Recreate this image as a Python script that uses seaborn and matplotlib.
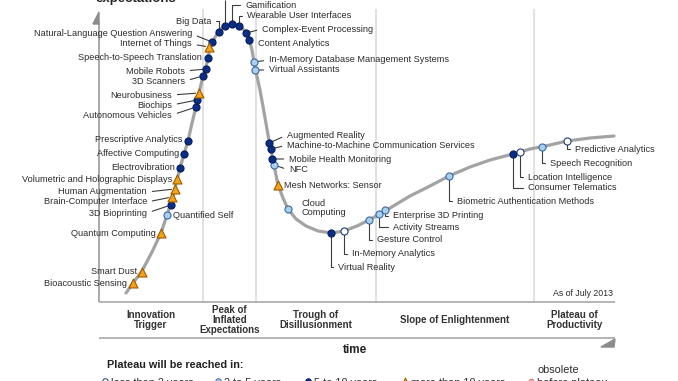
import matplotlib
matplotlib.use("Agg")
import matplotlib.pyplot as plt
import seaborn as sns
import pandas as pd

sns.set_theme(style="white")
plt.rcParams["font.family"] = ["Liberation Sans", "DejaVu Sans"]

# --- data (x = time, y = expectations, picture units) ---

# the hype curve itself
curve_x = [126, 133, 142, 152, 161, 167, 172, 177, 180, 184, 188, 192, 196, 199,
           203, 206, 208, 210, 213, 218, 224, 231, 238, 245, 249, 252, 254, 256,
           260, 264, 268, 271, 274, 278, 283, 288, 296, 306, 318, 331, 344, 357,
           369, 385, 410, 430, 449, 470, 490, 513, 530, 550, 567, 590, 614]
curve_y = [293, 283, 271, 252, 233, 215, 200, 180, 168, 154, 141, 123, 107, 93,
           76, 67, 58, 48, 41, 32, 26, 24, 25, 31, 39, 50, 62, 72,
           90, 112, 135, 150, 165, 185, 198, 209, 219, 226, 231, 233, 231, 226,
           220, 211, 196, 186, 176, 167, 160, 154, 149, 145, 141, 138, 136]

tech_names = [
    "Bioacoustic Sensing", "Smart Dust", "Quantum Computing", "Quantified Self",
    "3D Bioprinting", "Brain-Computer Interface", "Human Augmentation",
    "Volumetric and Holographic Displays", "Electrovibration", "Affective Computing",
    "Prescriptive Analytics", "Autonomous Vehicles", "Biochips", "Neurobusiness",
    "3D Scanners", "Mobile Robots", "Speech-to-Speech Translation", "Internet of Things",
    "Natural-Language Question Answering", "Big Data", "Consumer 3D Printing",
    "Gamification", "Wearable User Interfaces", "Complex-Event Processing",
    "Content Analytics", "In-Memory Database Management Systems", "Virtual Assistants",
    "Augmented Reality", "Machine-to-Machine Communication Services",
    "Mobile Health Monitoring", "NFC", "Mesh Networks: Sensor", "Cloud Computing",
    "Virtual Reality", "In-Memory Analytics", "Gesture Control", "Activity Streams",
    "Enterprise 3D Printing", "Biometric Authentication Methods", "Consumer Telematics",
    "Location Intelligence", "Speech Recognition", "Predictive Analytics",
]
tech_x = [133, 142, 161, 167, 171, 172, 175, 177, 180, 184, 188, 196, 197, 199,
          203, 206, 208, 209, 212, 219, 225, 232, 239, 246, 249, 254, 255,
          269, 271, 272, 274, 278, 288, 331, 344, 369, 379, 385, 449, 513,
          520, 542, 567]
tech_y = [283, 272, 233, 215, 205, 197, 189, 179, 168, 154, 141, 107, 100, 93,
          76, 69, 58, 47, 42, 32, 26, 24, 26, 33, 40, 62, 70,
          143, 149, 159, 165, 185, 209, 233, 231, 220, 214, 210, 176, 154,
          152, 147, 141]
tech_years = [">10", ">10", ">10", "2-5", "5-10", ">10", ">10", ">10", "5-10", "5-10",
              "5-10", "5-10", "5-10", ">10", "5-10", "5-10", "5-10", ">10", "5-10", "5-10",
              "5-10", "5-10", "5-10", "5-10", "5-10", "2-5", "2-5",
              "5-10", "5-10", "5-10", "2-5", ">10", "2-5", "5-10", "<2", "2-5", "2-5",
              "2-5", "2-5", "5-10", "<2", "2-5", "<2"]

phase_names = ["Innovation\nTrigger", "Peak of\nInflated\nExpectations",
               "Trough of\nDisillusionment", "Slope of Enlightenment",
               "Plateau of\nProductivity"]
phase_edges = [99, 203, 256, 376, 534, 615]

legend_keys = ["<2", "2-5", "5-10", ">10", "obsolete"]
legend_labels = ["less than 2 years", "2 to 5 years", "5 to 10 years",
                 "more than 10 years", "before plateau"]

# --- styling / layout ---
styles = {
    "<2": dict(marker="o", color="white", edgecolor="#1d3b78", s=26),
    "2-5": dict(marker="o", color="#a9cfeb", edgecolor="#3a68a8", s=26),
    "5-10": dict(marker="o", color="#0a2d86", edgecolor="#061d5c", s=26),
    ">10": dict(marker="^", color="#f2a21b", edgecolor="#a05c00", s=42),
    "obsolete": dict(marker="o", color="#f4a3a3", edgecolor="#e07070", s=18),
}

# label position, alignment, leader kind
label_layout = {
    "Bioacoustic Sensing": (127, 283, "right", "none"),
    "Smart Dust": (137, 272, "right", "none"),
    "Quantum Computing": (156, 233, "right", "none"),
    "Quantified Self": (173, 215, "left", "none"),
    "3D Bioprinting": (147, 213, "right", "line"),
    "Brain-Computer Interface": (147, 202, "right", "line"),
    "Human Augmentation": (147, 192, "right", "line"),
    "Volumetric and Holographic Displays": (172, 179, "right", "none"),
    "Electrovibration": (175, 167, "right", "none"),
    "Affective Computing": (179, 153, "right", "none"),
    "Prescriptive Analytics": (182, 140, "right", "none"),
    "Autonomous Vehicles": (172, 115, "right", "line"),
    "Biochips": (172, 105, "right", "line"),
    "Neurobusiness": (172, 95, "right", "line"),
    "3D Scanners": (185, 81, "right", "line"),
    "Mobile Robots": (185, 71, "right", "line"),
    "Speech-to-Speech Translation": (202, 58, "right", "none"),
    "Internet of Things": (192, 44, "right", "line"),
    "Natural-Language Question Answering": (192, 34, "right", "line"),
    "Big Data": (211, 21, "right", "elbow"),
    "Consumer 3D Printing": (226, 0, "left", "up"),
    "Gamification": (245, 5, "left", "elbow"),
    "Wearable User Interfaces": (247, 16, "left", "elbow"),
    "Complex-Event Processing": (262, 29, "left", "line"),
    "Content Analytics": (258, 44, "left", "none"),
    "In-Memory Database Management Systems": (269, 60, "left", "line"),
    "Virtual Assistants": (269, 70, "left", "line"),
    "Augmented Reality": (287, 135, "left", "line"),
    "Machine-to-Machine Communication Services": (287, 145, "left", "line"),
    "Mobile Health Monitoring": (289, 159, "left", "line"),
    "NFC": (289, 170, "left", "line"),
    "Mesh Networks: Sensor": (284, 185, "left", "none"),
    "Cloud Computing": (301, 208, "left", "none"),
    "Virtual Reality": (338, 267, "left", "elbow"),
    "In-Memory Analytics": (352, 254, "left", "elbow"),
    "Gesture Control": (377, 240, "left", "elbow"),
    "Activity Streams": (393, 227, "left", "elbow"),
    "Enterprise 3D Printing": (393, 216, "left", "elbow"),
    "Biometric Authentication Methods": (457, 201, "left", "elbow"),
    "Consumer Telematics": (528, 188, "left", "elbow"),
    "Location Intelligence": (528, 177, "left", "elbow"),
    "Speech Recognition": (550, 163, "left", "elbow"),
    "Predictive Analytics": (575, 149, "left", "elbow"),
}

txt = "#2b2b2b"
lead = "#3c3c3c"
grid_c = "#d9d9d9"
axis_c = "#a8a8a8"

df = pd.DataFrame({"name": tech_names, "x": tech_x, "y": tech_y, "years": tech_years})

fig = plt.figure(figsize=(6.78, 3.81), dpi=100)
ax = fig.add_axes([0, 0, 1, 1])
ax.set_xlim(0, 678)
ax.set_ylim(381, 0)
ax.axis("off")

# phase dividers and axes
ax.vlines(phase_edges[1:-1], 9, 302, color=grid_c, lw=1.1, zorder=1)
ax.vlines(99, 22, 302, color=axis_c, lw=1.4, zorder=1)
ax.fill([93, 99, 99], [24, 12, 24], color="#8c8c8c", zorder=2)
ax.hlines([302, 338], 99, 615, color=axis_c, lw=1.2, zorder=1)
ax.fill([601, 615, 614], [347, 339, 347], color="#8c8c8c", zorder=2)

# hype curve
sns.lineplot(x=curve_x, y=curve_y, sort=False, estimator=None, color="#a3a3a3",
             lw=2.3, ax=ax, zorder=2)

# technologies
for key, sub in df.groupby("years"):
    st = styles[key]
    sns.scatterplot(data=sub, x="x", y="y", marker=st["marker"], color=st["color"],
                    edgecolor=st["edgecolor"], s=st["s"], linewidth=0.8, ax=ax,
                    zorder=4, legend=False)

for name, x, y in zip(tech_names, tech_x, tech_y):
    lx, ly, ha, leader = label_layout[name]
    label = "Cloud\nComputing" if name == "Cloud Computing" else name
    if leader == "up":
        ax.vlines(x, ly, y, color=lead, lw=0.8, zorder=3)
        continue
    if leader == "none":
        ax.text(lx, ly, label, ha=ha, va="center", fontsize=6.6, color=txt,
                linespacing=1.0)
        continue
    cs = "arc3" if leader == "line" else "angle,angleA=0,angleB=90,rad=0"
    ax.annotate(label, xy=(x, y), xytext=(lx, ly), ha=ha, va="center",
                fontsize=6.6, color=txt,
                arrowprops=dict(arrowstyle="-", color=lead, lw=0.8, shrinkA=1.5,
                                shrinkB=2.5, connectionstyle=cs,
                                relpos=(1 if ha == "right" else 0, 0.5)),
                zorder=3)

# phase names
for i, ph in enumerate(phase_names):
    cx = (phase_edges[i] + phase_edges[i + 1]) / 2
    ax.text(cx, 320, ph, ha="center", va="center", fontsize=7, fontweight="bold",
            color="#333333", linespacing=1.05)

ax.text(613, 293, "As of July 2013", ha="right", va="center", fontsize=6.3, color=txt)
ax.text(95, -1, "expectations", ha="left", va="center", fontsize=9.5,
        fontweight="bold", color="#222222")
ax.text(355, 350, "time", ha="center", va="center", fontsize=8.5,
        fontweight="bold", color="#222222")
ax.text(107, 365, "Plateau will be reached in:", ha="left", va="center",
        fontsize=7.8, fontweight="bold", color="#222222")

# legend row (cut by the bottom edge)
leg_x = [105, 218, 308, 405, 531]
for k, lab, lx in zip(legend_keys, legend_labels, leg_x):
    st = styles[k]
    ax.scatter([lx], [381], marker=st["marker"], c=st["color"],
               edgecolors=st["edgecolor"], s=st["s"] * 0.6, linewidths=0.7,
               zorder=4, clip_on=False)
    ax.text(lx + 6, 383, lab, ha="left", va="center", fontsize=7.8, color=txt)
ax.text(538, 370, "obsolete", ha="left", va="center", fontsize=7.8, color=txt)

fig.savefig("out.png", dpi=100)
